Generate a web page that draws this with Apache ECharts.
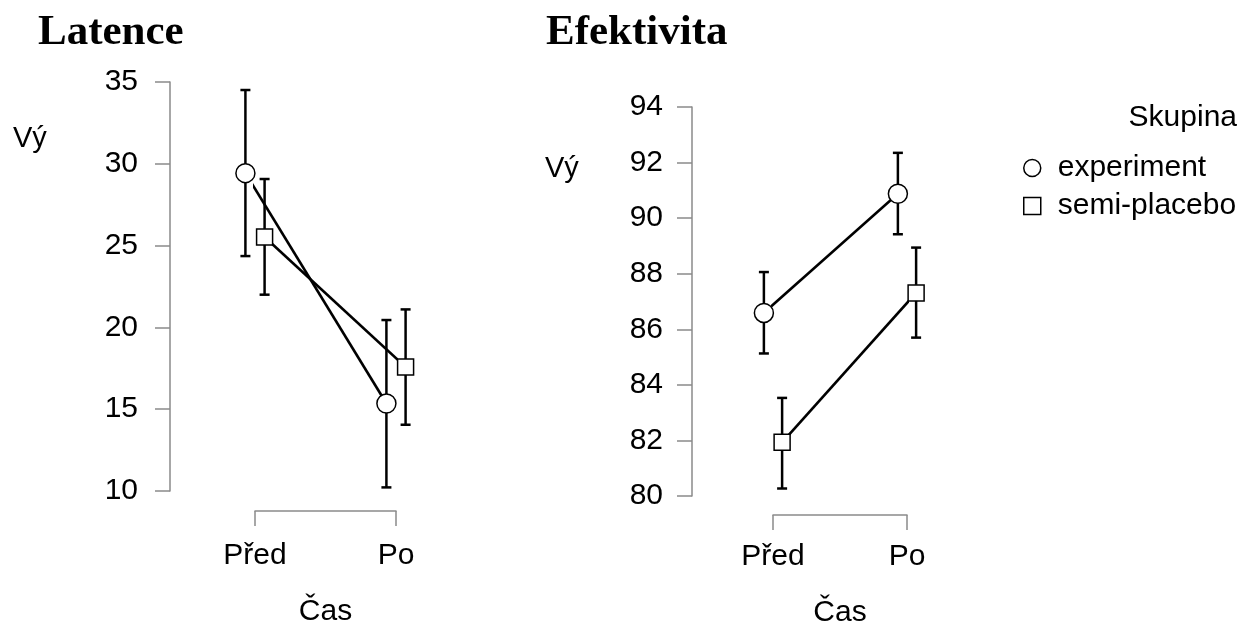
<!DOCTYPE html>
<html>
<head>
<meta charset="utf-8">
<script src="https://cdn.jsdelivr.net/npm/echarts@6/dist/echarts.min.js"></script>
<style>
  html, body { margin: 0; padding: 0; background: #fff; }
  #main { width: 1245px; height: 626px; }
</style>
</head>
<body>
<div id="main"></div>
<script>
// data
var timeLabels = ['Před', 'Po'];
var groupNames = ['experiment', 'semi-placebo'];

// Latence
var latExpMean = [29.43, 15.35];
var latExpLow = [24.36, 10.22];
var latExpHigh = [34.51, 20.45];
var latSemiMean = [25.53, 17.58];
var latSemiLow = [22.0, 14.05];
var latSemiHigh = [29.07, 21.1];

// Efektivita
var efExpMean = [86.59, 90.88];
var efExpLow = [85.13, 89.42];
var efExpHigh = [88.06, 92.35];
var efSemiMean = [81.93, 87.31];
var efSemiLow = [80.27, 85.7];
var efSemiHigh = [83.53, 88.94];

var dodge = 0.068;
var FONT = 'Liberation Sans, Arial, sans-serif';

function pts(means, shift) {
	return means.map(function (m, i) { return [i + 1 + shift, m]; });
}
function bars(low, high, shift) {
	return low.map(function (l, i) { return [i + 1 + shift, l, high[i]]; });
}

function renderErr(params, api) {
	var top = api.coord([api.value(0), api.value(2)]);
	var bot = api.coord([api.value(0), api.value(1)]);
	var w = 5;
	var st = { stroke: '#000', lineWidth: 2.5 };
	return {
		type: 'group',
		children: [
			{ type: 'line', shape: { x1: top[0], y1: top[1], x2: bot[0], y2: bot[1] }, style: st },
			{ type: 'line', shape: { x1: top[0] - w, y1: top[1], x2: top[0] + w, y2: top[1] }, style: st },
			{ type: 'line', shape: { x1: bot[0] - w, y1: bot[1], x2: bot[0] + w, y2: bot[1] }, style: st }
		]
	};
}

function errSeries(low, high, shift, idx) {
	return {
		type: 'custom',
		xAxisIndex: idx, yAxisIndex: idx,
		renderItem: renderErr,
		data: bars(low, high, shift),
		z: 1,
		silent: true
	};
}

function lineSeries(name, means, shift, idx, symbol, size) {
	return {
		name: name,
		type: 'line',
		xAxisIndex: idx, yAxisIndex: idx,
		data: pts(means, shift),
		symbol: symbol,
		symbolSize: size,
		showAllSymbol: true,
		clip: false,
		z: 3,
		lineStyle: { color: '#000', width: 2.6 },
		itemStyle: { color: '#fff', borderColor: '#000', borderWidth: 1.5 }
	};
}

var axisGrey = '#8a8a8a';

function xAx(idx, offset, margin, gap) {
	return {
		type: 'value', gridIndex: idx,
		min: 1, max: 2, interval: 1,
		offset: offset,
		name: 'Čas', nameLocation: 'middle', nameGap: gap,
		nameTextStyle: { fontFamily: FONT, fontSize: 30, color: '#000' },
		axisLine: { show: true, lineStyle: { color: axisGrey, width: 1.5 } },
		axisTick: { show: true, length: 15, lineStyle: { color: axisGrey, width: 1.5 } },
		axisLabel: {
			fontFamily: FONT, fontSize: 30, color: '#000', margin: margin,
			formatter: function (v) { return timeLabels[v - 1]; }
		},
		splitLine: { show: false }
	};
}

function yAx(idx, min, max, step, offset, margin) {
	return {
		type: 'value', gridIndex: idx,
		min: min, max: max, interval: step,
		offset: offset,
		axisLine: { show: true, lineStyle: { color: axisGrey, width: 1.5 } },
		axisTick: { show: true, length: 15, lineStyle: { color: axisGrey, width: 1.5 } },
		axisLabel: { fontFamily: FONT, fontSize: 30, color: '#000', margin: margin },
		splitLine: { show: false }
	};
}

var myChart = echarts.init(document.getElementById('main'));
var option = {
	backgroundColor: '#fff',
	animation: false,
	title: [
		{ text: 'Latence', left: 33, top: 6, textStyle: { fontFamily: 'Liberation Serif, Times New Roman, serif', fontWeight: 'bold', fontSize: 43, color: '#000' } },
		{ text: 'Efektivita', left: 541, top: 6, textStyle: { fontFamily: 'Liberation Serif, Times New Roman, serif', fontWeight: 'bold', fontSize: 43, color: '#000' } },
		{ text: 'Vý', left: 8, top: 119, textStyle: { fontFamily: FONT, fontWeight: 'normal', fontSize: 29, color: '#000' } },
		{ text: 'Vý', left: 540, top: 149, textStyle: { fontFamily: FONT, fontWeight: 'normal', fontSize: 29, color: '#000' } },
		{ text: 'Skupina', right: 3, top: 98, textStyle: { fontFamily: FONT, fontWeight: 'normal', fontSize: 30, color: '#000' } }
	],
	legend: {
		orient: 'vertical',
		left: 1018, top: 148,
		itemWidth: 17, itemHeight: 17,
		itemGap: 8,
		data: [
			{ name: groupNames[0], icon: 'circle' },
			{ name: groupNames[1], icon: 'rect' }
		],
		itemStyle: { color: '#fff', borderColor: '#000', borderWidth: 1.5 },
		textStyle: { fontFamily: FONT, fontSize: 30, color: '#000', lineHeight: 30, padding: [0, 0, 0, 12] }
	},
	grid: [
		{ left: 255, top: 82, width: 141, height: 409, outerBoundsMode: 'none', containLabel: false },
		{ left: 773, top: 107, width: 134, height: 389, outerBoundsMode: 'none', containLabel: false }
	],
	xAxis: [xAx(0, 20, 30, 86), xAx(1, 19, 27, 83)],
	yAxis: [yAx(0, 10, 35, 5, 85, 32), yAx(1, 80, 94, 2, 81, 29)],
	series: [
		errSeries(latExpLow, latExpHigh, -dodge, 0),
		errSeries(latSemiLow, latSemiHigh, dodge, 0),
		lineSeries(groupNames[0], latExpMean, -dodge, 0, 'circle', 19),
		lineSeries(groupNames[1], latSemiMean, dodge, 0, 'rect', 16),
		errSeries(efExpLow, efExpHigh, -dodge, 1),
		errSeries(efSemiLow, efSemiHigh, dodge, 1),
		lineSeries(groupNames[0], efExpMean, -dodge, 1, 'circle', 19),
		lineSeries(groupNames[1], efSemiMean, dodge, 1, 'rect', 16)
	]
};
myChart.setOption(option);
</script>
</body>
</html>
